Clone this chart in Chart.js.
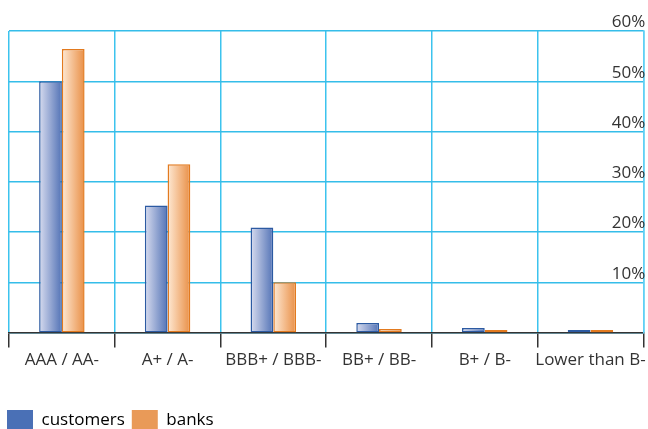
<!DOCTYPE html>
<html>
<head>
<meta charset="utf-8">
<script src="https://cdn.jsdelivr.net/npm/chart.js@4"></script>
<style>
  html, body { margin: 0; padding: 0; background: #fff; }
</style>
</head>
<body>
<canvas id="chart" width="648" height="429"></canvas>
<script>
// Data (percent of total)
const categories = ["AAA / AA-", "A+ / A-", "BBB+ / BBB-", "BB+ / BB-", "B+ / B-", "Lower than B-"];
const customers = [50, 25.3, 20.9, 1.9, 0.9, 0.5];
const banks = [56.4, 33.5, 10.0, 0.7, 0.5, 0.5];
const yTicks = [10, 20, 30, 40, 50, 60];

const GROUP = 0.43; // share of a category taken by the two bars
const FONT = "'Open Sans', 'Noto Sans', sans-serif";

// Horizontal gradient per bar, light on the left, dark on the right
function barGradient(light, dark) {
  return (ctx) => {
    const chart = ctx.chart;
    const xScale = chart.scales.x;
    if (!chart.chartArea || !xScale || ctx.type !== "data") return dark;
    const center = xScale.getPixelForValue(ctx.dataIndex);
    const half = (xScale.width / categories.length) * GROUP / 2;
    const left = ctx.datasetIndex === 0 ? center - half : center;
    const g = chart.ctx.createLinearGradient(left, 0, left + half, 0);
    g.addColorStop(0, light);
    g.addColorStop(1, dark);
    return g;
  };
}

new Chart(document.getElementById("chart"), {
  type: "bar",
  data: {
    labels: categories,
    datasets: [
      {
        label: "customers",
        data: customers,
        backgroundColor: barGradient("#d8dcef", "#5373b6"),
        borderColor: "#2c5aa2",
        borderWidth: 1.5,
        borderSkipped: false,
        categoryPercentage: GROUP,
        barPercentage: 1,
      },
      {
        label: "banks",
        data: banks,
        backgroundColor: barGradient("#fee9d4", "#e98f46"),
        borderColor: "#e27a1f",
        borderWidth: 1.5,
        borderSkipped: false,
        categoryPercentage: GROUP,
        barPercentage: 1,
      },
    ],
  },
  options: {
    responsive: false,
    animation: false,
    layout: { padding: { top: 31, left: 0, right: 4, bottom: -11 } },
    plugins: {
      tooltip: { enabled: false },
      legend: {
        position: "bottom",
        align: "start",
        labels: {
          boxWidth: 26,
          boxHeight: 20,
          padding: 7,
          color: "#333",
          font: { family: FONT, size: 17 },
          generateLabels: () => [
            { text: "customers", fillStyle: "#4a70b6", strokeStyle: "#4a70b6", lineWidth: 0, datasetIndex: 0 },
            { text: "banks", fillStyle: "#e99a58", strokeStyle: "#e99a58", lineWidth: 0, datasetIndex: 1 },
          ],
        },
      },
    },
    scales: {
      x: {
        grid: {
          offset: true,
          color: "#3cc3ee",
          lineWidth: 1.5,
          tickColor: "#333",
          tickLength: 15,
        },
        border: { color: "#333", width: 1.5 },
        ticks: {
          color: "#333",
          padding: 2,
          maxRotation: 0,
          autoSkip: false,
          font: { family: FONT, size: 17 },
        },
        afterFit: (scale) => { scale.height += 31; },
      },
      // empty spacer on the left so the plot starts a few pixels in
      spacer: {
        type: "linear",
        position: "left",
        grid: { display: false },
        border: { display: false },
        ticks: { display: false },
        afterFit: (scale) => { scale.width = 9; },
      },
      y: {
        position: "right",
        min: 0,
        max: 60,
        afterBuildTicks: (scale) => {
          scale.ticks = [0, ...yTicks].map((v) => ({ value: v }));
        },
        afterFit: (scale) => { scale.width = 0; },
        grid: { color: "#35bde9", lineWidth: 1.5, drawTicks: false },
        border: { color: "#5fd0f5", width: 1.5 },
        ticks: {
          mirror: true,
          align: "end",
          padding: 2,
          color: "#333",
          font: { family: FONT, size: 17 },
          callback: (v) => (v === 0 ? "" : v + "%"),
        },
      },
    },
  },
});
</script>
</body>
</html>
